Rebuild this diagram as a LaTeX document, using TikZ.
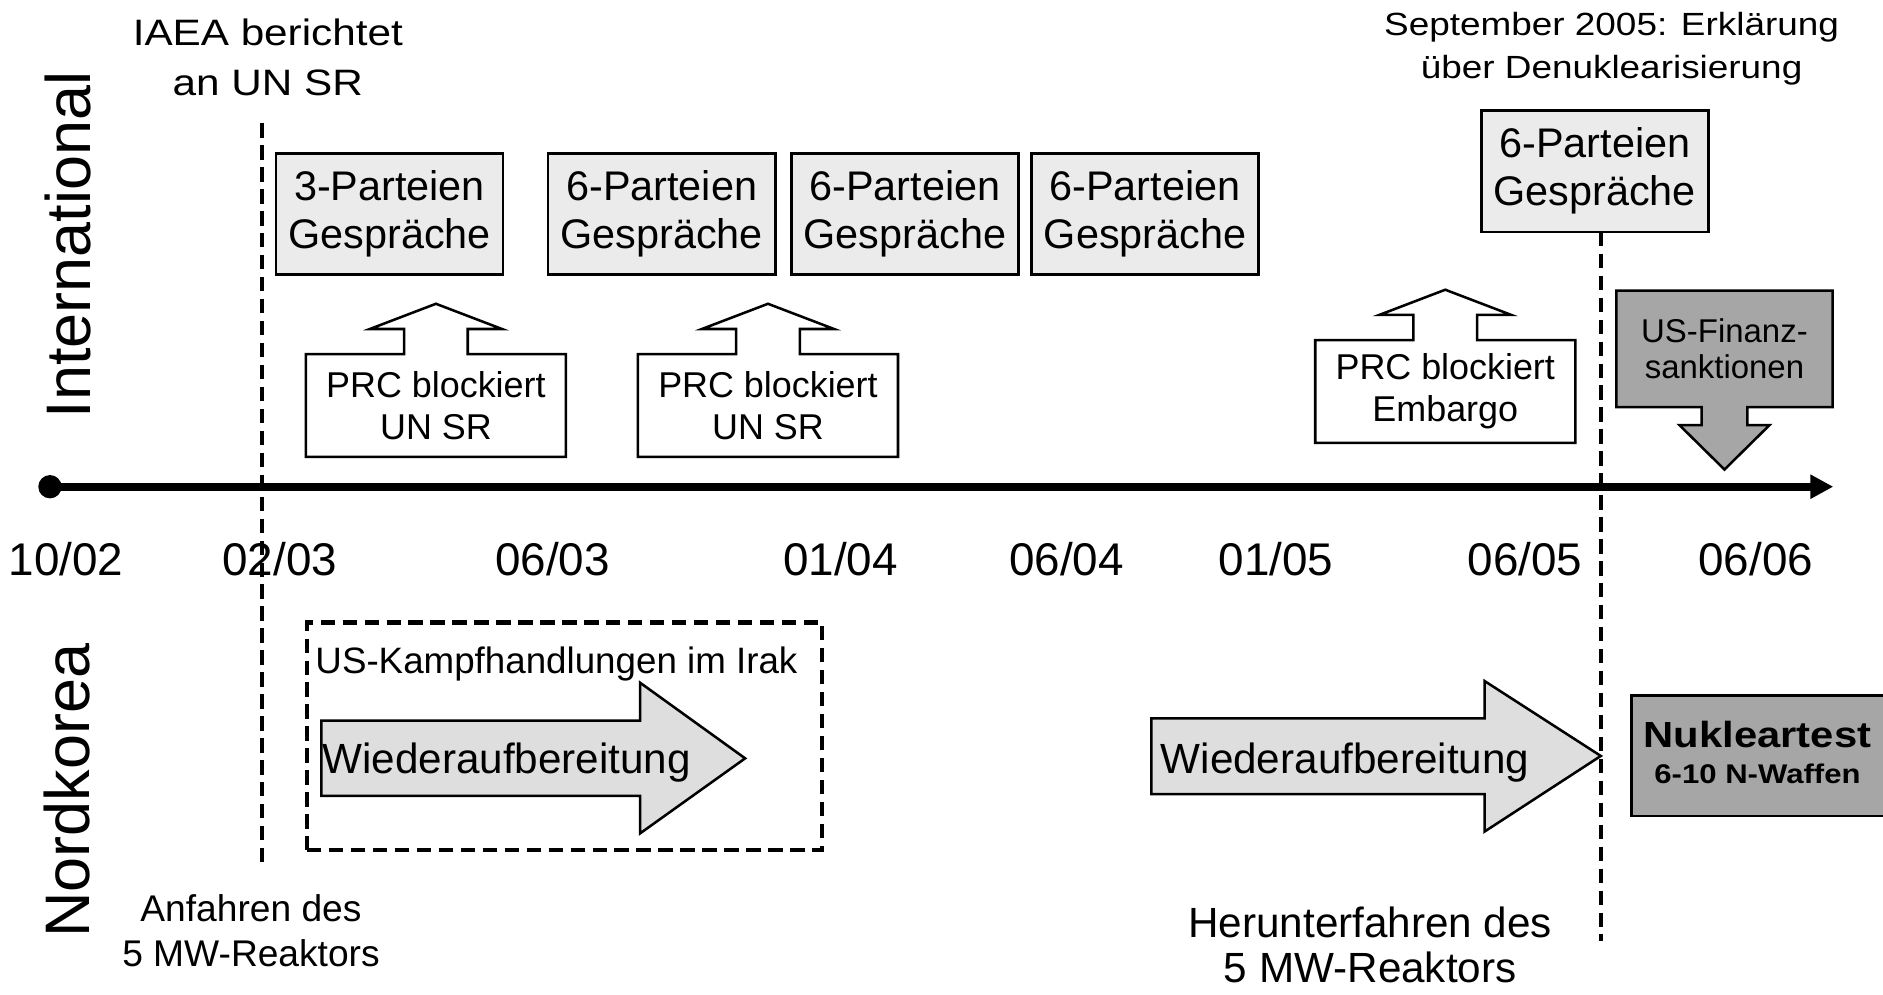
\documentclass[tikz,border=0pt]{standalone}
\usepackage{fontspec}
\setmainfont{Liberation Sans}
\newfontfamily\widefont{Liberation Sans}[FakeStretch=1.15]
\usetikzlibrary{arrows.meta,calc}
\definecolor{talkfill}{gray}{0.92}
\definecolor{workfill}{gray}{0.87}
\definecolor{usfill}{gray}{0.65}
\begin{document}
\begin{tikzpicture}[x=0.01cm,y=-0.01cm,
    talk/.style={draw,fill=talkfill,line width=0.6pt,inner sep=0pt,minimum width=1.89cm,minimum height=1.01cm,align=center,font=\fontsize{9.8}{11.4}\selectfont},
    prc/.style={inner sep=0pt,minimum width=2.15cm,minimum height=0.84cm,align=center,font=\fontsize{8.5}{9.9}\selectfont},
    callout/.style={draw,line width=0.6pt},
    work/.style={draw,fill=workfill,line width=0.6pt},
    date/.style={anchor=base,inner sep=0pt,font=\fontsize{10.85}{12}\selectfont},
    note/.style={inner sep=0pt,align=center},
    dashline/.style={line width=1pt,dash pattern=on 3.4pt off 1.8pt},
    side/.style={rotate=90,inner sep=0pt,font=\fontsize{14.9}{16}\selectfont}]
      \useasboundingbox (0,0) rectangle (1568,828);
      \draw
        (57,204) node[side] (intl){International}
        (56,658.5) node[side] (nk){Nordkorea};
      \node[note,font=\widefont\fontsize{8.7}{11.8}\selectfont] (iaea) at (223,48) {IAEA berichtet\\an UN SR};
      \node[note,font=\widefont\fontsize{7.6}{10.1}\selectfont] (sept) at (1342,40.7) {September 2005: Erklärung\\über Denuklearisierung};
      \node[talk] (t1) at (324.4,178.2) {3-Parteien\\Gespräche};
      \node[talk] (t2) at (551,178.2) {6-Parteien\\Gespräche};
      \node[talk] (t3) at (753.5,178.2) {6-Parteien\\Gespräche};
      \node[talk] (t4) at (953.5,178.2) {6-Parteien\\Gespräche};
      \node[talk] (t5) at (1328,142.5) {6-Parteien\\Gespräche};
      \node[prc] (prc1) at (363,337.7) {PRC blockiert\\UN SR};
      \node[prc] (prc2) at (639.5,337.7) {PRC blockiert\\UN SR};
      \node[prc] (prc3) at (1203.5,326) {PRC blockiert\\Embargo};
      \foreach \p in {prc1,prc2,prc3}
        \draw[callout] (\p.south west) -- (\p.north west) -- ($(\p.north)+(-26.5,0)$) -- ++(0,-21)
          -- ++(-28.5,0) -- ++(55,-21) -- ++(55,21) -- ++(-28.5,0) -- ++(0,21)
          -- (\p.north east) -- (\p.south east) -- cycle;
      \draw[callout,fill=usfill] (1346,242) -- (1526,242) -- (1526,339) -- (1455,339) -- (1455,354)
        -- (1473.5,354) -- (1436,391) -- (1398.5,354) -- (1417,354) -- (1417,339) -- (1346,339) -- cycle;
      \node[note,font=\fontsize{7.8}{8.5}\selectfont] (usf) at (1436,290.5) {US-Finanz-\\sanktionen};
      \node[circle,fill,inner sep=0pt,minimum size=0.194cm] (origin) at (41.6,405.3) {};
      \coordinate (future) at (1526.6,405.3);
      \draw[line width=1.85pt,-{Triangle[length=0.19cm,width=0.19cm]}] (origin.center) to (future);
      \draw
        (55,479.6) node[date] (oct02){10/02}
        (233,479.6) node[date] (feb03){02/03}
        (460,479.6) node[date] (jun03){06/03}
        (700,479.6) node[date] (jan04){01/04}
        (888,479.6) node[date] (jun04){06/04}
        (1062.5,479.6) node[date] (jan05){01/05}
        (1270,479.6) node[date] (jun05){06/05}
        (1462,479.6) node[date] (jun06){06/06};
      \coordinate (iaeafoot) at (217.9,102.7);
      \coordinate (startfoot) at (217.9,719);
      \coordinate (sepfoot) at (1333,193);
      \coordinate (stopfoot) at (1333,784);
      \begin{scope}[dashline]
        \draw (iaeafoot) to (startfoot);
        \draw (sepfoot) to (stopfoot);
        \node[draw,inner sep=0pt,minimum width=4.287cm,minimum height=1.893cm] (irak) at (470.15,613.15) {};
      \end{scope}
      \node[anchor=base west,inner sep=0pt,font=\fontsize{8.7}{9.5}\selectfont] (irakcap) at (262,560.7) {US-Kampfhandlungen im Irak};
      \draw[work] (267.7,600) -- (533,600) -- (533,568.5) -- (620.5,631.5) -- (533,694) -- (533,662.8) -- (267.7,662.8) -- cycle;
      \node[anchor=base west,inner sep=0pt,font=\fontsize{10}{11}\selectfont] (proc1) at (267.7,644) {Wiederaufbereitung};
      \draw[work] (958.8,598.2) -- (1236.2,598.2) -- (1236.2,567.1) -- (1333,629.5) -- (1236.2,692.5) -- (1236.2,661.2) -- (958.8,661.2) -- cycle;
      \node[anchor=base west,inner sep=0pt,font=\fontsize{10}{11}\selectfont] (proc2) at (965.9,644) {Wiederaufbereitung};
      \node[draw,fill=usfill,line width=0.6pt,inner sep=0pt,minimum width=2.3cm,minimum height=1.002cm] (nuke) at (1473.7,629.4) {};
      \node[note,font=\widefont\fontsize{8.6}{8.5}\selectfont\bfseries] (nuketext) at (1463.5,626.7) {Nukleartest\\{\fontsize{6.4}{8}\selectfont 6-10 N-Waffen}};
      \node[note,font=\fontsize{8.8}{10.7}\selectfont] (startup) at (209,774.7) {Anfahren des\\5 MW-Reaktors};
      \node[note,font=\fontsize{10}{10.6}\selectfont] (shutdown) at (1141,787) {Herunterfahren des\\5 MW-Reaktors};
    \end{tikzpicture}
\end{document}
